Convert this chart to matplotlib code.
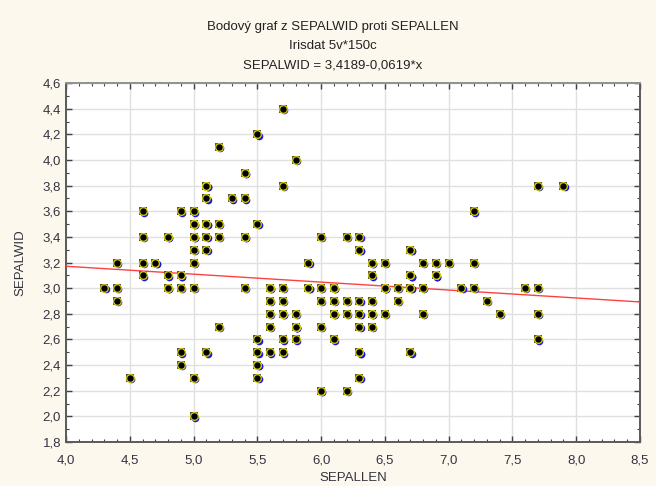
import numpy as np
import matplotlib
matplotlib.use("Agg")
import matplotlib.pyplot as plt
import matplotlib.transforms as mtransforms
from matplotlib.ticker import MultipleLocator, FuncFormatter

plt.rcParams['font.family'] = ['Liberation Sans', 'DejaVu Sans']

# iris data: sepal length / sepal width (150 cases)
sepallen = [
    5.1, 4.9, 4.7, 4.6, 5.0, 5.4, 4.6, 5.0, 4.4, 4.9, 5.4, 4.8, 4.8, 4.3, 5.8, 5.7, 5.4, 5.1, 5.7, 5.1,
    5.4, 5.1, 4.6, 5.1, 4.8, 5.0, 5.0, 5.2, 5.2, 4.7, 4.8, 5.4, 5.2, 5.5, 4.9, 5.0, 5.5, 4.9, 4.4, 5.1,
    5.0, 4.5, 4.4, 5.0, 5.1, 4.8, 5.1, 4.6, 5.3, 5.0,
    7.0, 6.4, 6.9, 5.5, 6.5, 5.7, 6.3, 4.9, 6.6, 5.2, 5.0, 5.9, 6.0, 6.1, 5.6, 6.7, 5.6, 5.8, 6.2, 5.6,
    5.9, 6.1, 6.3, 6.1, 6.4, 6.6, 6.8, 6.7, 6.0, 5.7, 5.5, 5.5, 5.8, 6.0, 5.4, 6.0, 6.7, 6.3, 5.6, 5.5,
    5.5, 6.1, 5.8, 5.0, 5.6, 5.7, 5.7, 6.2, 5.1, 5.7,
    6.3, 5.8, 7.1, 6.3, 6.5, 7.6, 4.9, 7.3, 6.7, 7.2, 6.5, 6.4, 6.8, 5.7, 5.8, 6.4, 6.5, 7.7, 7.7, 6.0,
    6.9, 5.6, 7.7, 6.3, 6.7, 7.2, 6.2, 6.1, 6.4, 7.2, 7.4, 7.9, 6.4, 6.3, 6.1, 7.7, 6.3, 6.4, 6.0, 6.9,
    6.7, 6.9, 5.8, 6.8, 6.7, 6.7, 6.3, 6.5, 6.2, 5.9,
]
sepalwid = [
    3.5, 3.0, 3.2, 3.1, 3.6, 3.9, 3.4, 3.4, 2.9, 3.1, 3.7, 3.4, 3.0, 3.0, 4.0, 4.4, 3.9, 3.5, 3.8, 3.8,
    3.4, 3.7, 3.6, 3.3, 3.4, 3.0, 3.4, 3.5, 3.4, 3.2, 3.1, 3.4, 4.1, 4.2, 3.1, 3.2, 3.5, 3.6, 3.0, 3.4,
    3.5, 2.3, 3.2, 3.5, 3.8, 3.0, 3.8, 3.2, 3.7, 3.3,
    3.2, 3.2, 3.1, 2.3, 2.8, 2.8, 3.3, 2.4, 2.9, 2.7, 2.0, 3.0, 2.2, 2.9, 2.9, 3.1, 3.0, 2.7, 2.2, 2.5,
    3.2, 2.8, 2.5, 2.8, 2.9, 3.0, 2.8, 3.0, 2.9, 2.6, 2.4, 2.4, 2.7, 2.7, 3.0, 3.4, 3.1, 2.3, 3.0, 2.5,
    2.6, 3.0, 2.6, 2.3, 2.7, 3.0, 2.9, 2.9, 2.5, 2.8,
    3.3, 2.7, 3.0, 2.9, 3.0, 3.0, 2.5, 2.9, 2.5, 3.6, 3.2, 2.7, 3.0, 2.5, 2.8, 3.2, 3.0, 3.8, 2.6, 2.2,
    3.2, 2.8, 2.8, 2.7, 3.3, 3.2, 2.8, 3.0, 2.8, 3.0, 2.8, 3.8, 2.8, 2.8, 2.6, 3.0, 3.4, 3.1, 3.0, 3.1,
    3.1, 3.1, 2.7, 3.2, 3.3, 3.0, 2.5, 3.0, 3.4, 3.0,
]
intercept = 3.4189
slope = -0.0619

title_lines = ["Bodový graf z SEPALWID proti SEPALLEN",
               "Irisdat 5v*150c",
               "SEPALWID = 3,4189-0,0619*x"]

bg = '#fdf8ee'
txt = '#333340'

fig = plt.figure(figsize=(6.56, 4.86), dpi=100, facecolor=bg)
ax = fig.add_axes([0.1006, 0.0905, 0.8750, 0.7385])
ax.set_facecolor('white')

xs = np.array([4.0, 8.5])
ax.plot(xs, intercept + slope * xs, color='#ff4040', lw=1.0, zorder=3)

# marker: dark square, blue shadow, then black dot with yellow rim
shadow = mtransforms.offset_copy(ax.transData, fig=fig, x=1.3, y=-1.3, units='dots')
ax.scatter(sepallen, sepalwid, s=40, marker='s', color='#5a5838', zorder=4, linewidths=0)
ax.scatter(sepallen, sepalwid, s=30, marker='o', color='#1818e8', transform=shadow, zorder=5, linewidths=0)
ax.scatter(sepallen, sepalwid, s=30, marker='o', facecolor='black', edgecolor='#d8d000', linewidths=0.9, zorder=6)

ax.set_xlim(4.0, 8.5)
ax.set_ylim(1.8, 4.6)
ax.xaxis.set_major_locator(MultipleLocator(0.5))
ax.xaxis.set_minor_locator(MultipleLocator(0.1))
ax.yaxis.set_major_locator(MultipleLocator(0.2))
ax.yaxis.set_minor_locator(MultipleLocator(0.1))
comma = FuncFormatter(lambda v, p: ("%.1f" % v).replace('.', ','))
ax.xaxis.set_major_formatter(comma)
ax.yaxis.set_major_formatter(comma)

ax.grid(True, which='major', color='#e0e0e0', lw=1.0, zorder=0)
ax.set_axisbelow(True)
ax.tick_params(which='both', direction='in', top=True, right=True, colors='#404040',
               labelcolor=txt, labelsize=9.5)
ax.tick_params(which='major', length=4, width=1)
ax.tick_params(which='minor', length=2, width=0.8)
ax.tick_params(axis='x', pad=9)
for sp in ax.spines.values():
    sp.set_color('#5a5a5a')
    sp.set_linewidth(1.4)
ax.spines['top'].set_color('#909090')

ax.set_xlabel("SEPALLEN", fontsize=9.5, color=txt, labelpad=4)
ax.set_ylabel("SEPALWID", fontsize=9.5, color=txt, labelpad=12)

for i, line in enumerate(title_lines):
    fig.text(0.507, 1 - (27 + 19 * i) / 486, line, ha='center', va='center', fontsize=9.5, color='#222222')

fig.savefig("out.png", dpi=100, facecolor=bg)
